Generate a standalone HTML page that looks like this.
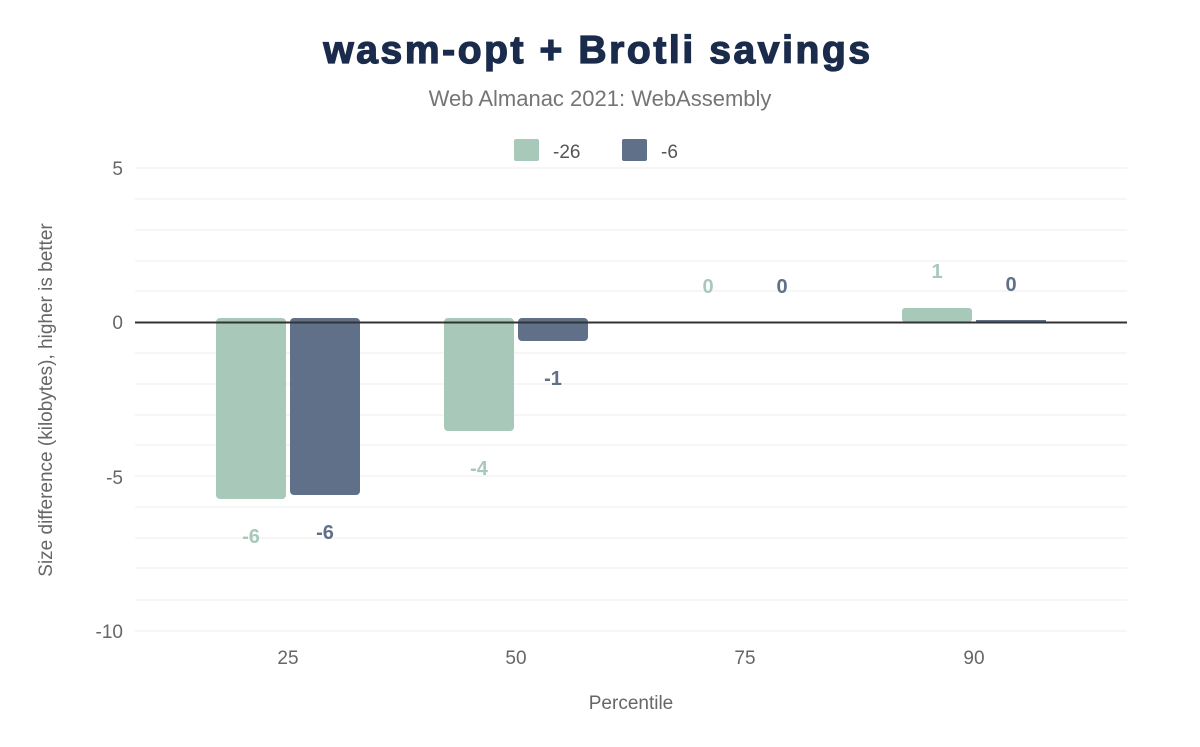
<!DOCTYPE html>
<html><head><meta charset="utf-8"><style>
body{margin:0;background:#fff;}
svg text{font-family:"Liberation Sans",Arial,sans-serif;}
</style></head><body>
<svg width="1200" height="742" xmlns="http://www.w3.org/2000/svg">
<rect width="1200" height="742" fill="#fff"/>
<text x="598" y="63" text-anchor="middle" font-size="39" font-weight="bold" fill="#1a2b4b" stroke="#1a2b4b" stroke-width="1.3" letter-spacing="2.6">wasm-opt + Brotli savings</text>
<text x="600" y="106" text-anchor="middle" font-size="22" fill="#757575">Web Almanac 2021: WebAssembly</text>
<rect x="514" y="139" width="25" height="22" rx="2" fill="#a8c9b9"/>
<text x="553" y="158" font-size="19" fill="#555">-26</text>
<rect x="622" y="139" width="25" height="22" rx="2" fill="#617089"/>
<text x="661" y="158" font-size="19" fill="#555">-6</text>
<g stroke="#f3f3f3" stroke-width="1.5">
<line x1="135" x2="1127" y1="168" y2="168"/><line x1="135" x2="1127" y1="199" y2="199"/>
<line x1="135" x2="1127" y1="230" y2="230"/><line x1="135" x2="1127" y1="261" y2="261"/>
<line x1="135" x2="1127" y1="291" y2="291"/><line x1="135" x2="1127" y1="353" y2="353"/>
<line x1="135" x2="1127" y1="384" y2="384"/><line x1="135" x2="1127" y1="415" y2="415"/>
<line x1="135" x2="1127" y1="445" y2="445"/><line x1="135" x2="1127" y1="476" y2="476"/>
<line x1="135" x2="1127" y1="507" y2="507"/><line x1="135" x2="1127" y1="538" y2="538"/>
<line x1="135" x2="1127" y1="568" y2="568"/><line x1="135" x2="1127" y1="600" y2="600"/>
<line x1="135" x2="1127" y1="631" y2="631"/>
</g>
<g fill="#a8c9b9">
<rect x="216" y="318" width="70" height="181" rx="4"/>
<rect x="444" y="318" width="70" height="113" rx="4"/>
<rect x="902" y="308" width="70" height="14" rx="3"/>
</g>
<g fill="#617089">
<rect x="290" y="318" width="70" height="177" rx="4"/>
<rect x="518" y="318" width="70" height="23" rx="4"/>
<rect x="976" y="320" width="70" height="2"/>
</g>
<line x1="135" x2="1127" y1="322.5" y2="322.5" stroke="#333" stroke-width="2"/>
<g font-size="20" font-weight="bold" text-anchor="middle">
<text x="251" y="543" fill="#a8c9b9">-6</text>
<text x="325" y="539" fill="#617089">-6</text>
<text x="479" y="475" fill="#a8c9b9">-4</text>
<text x="553" y="385" fill="#617089">-1</text>
<text x="708" y="293" fill="#a8c9b9">0</text>
<text x="782" y="293" fill="#617089">0</text>
<text x="937" y="278" fill="#a8c9b9">1</text>
<text x="1011" y="291" fill="#617089">0</text>
</g>
<g font-size="19" fill="#666" text-anchor="end">
<text x="123" y="175">5</text><text x="123" y="329">0</text>
<text x="123" y="484">-5</text><text x="123" y="638">-10</text>
</g>
<g font-size="19" fill="#666" text-anchor="middle">
<text x="288" y="664">25</text><text x="516" y="664">50</text>
<text x="745" y="664">75</text><text x="974" y="664">90</text>
<text x="631" y="709">Percentile</text>
</g>
<text transform="translate(52,400) rotate(-90)" font-size="19" fill="#666" text-anchor="middle">Size difference (kilobytes), higher is better</text>
</svg>
</body></html>
